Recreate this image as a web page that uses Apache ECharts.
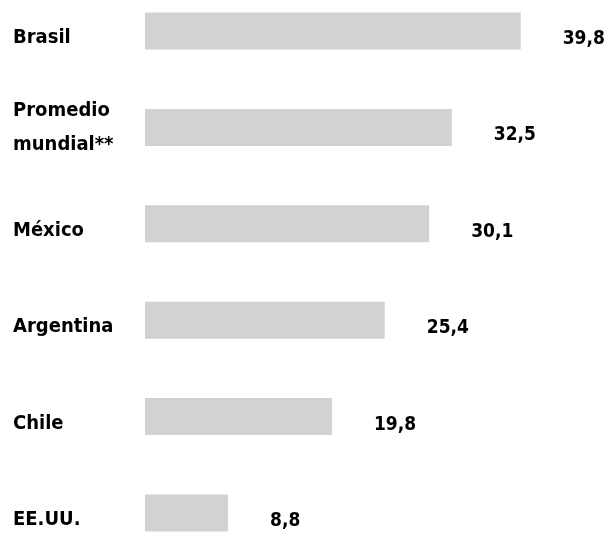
<!DOCTYPE html>
<html>
<head>
<meta charset="utf-8">
<script src="https://cdn.jsdelivr.net/npm/echarts@6/dist/echarts.min.js"></script>
<style>
  html, body { margin: 0; padding: 0; background: #ffffff; }
  #chart { width: 615px; height: 533px; }
</style>
</head>
<body>
<div id="chart"></div>
<script>
// Countries, top to bottom
const categories = ['Brasil', 'Promedio\nmundial**', 'México', 'Argentina', 'Chile', 'EE.UU.'];
// Values shown beside each bar
const values = [39.8, 32.5, 30.1, 25.4, 19.8, 8.8];

const FONT = '"Liberation Sans Narrow", "DejaVu Sans Condensed", "Open Sans", sans-serif';

// Single-line names sit a little below the bar's middle; the two-line name stays centred
const axisData = categories.map(name => name.includes('\n')
  ? { value: name, textStyle: { align: 'left', verticalAlign: 'middle', lineHeight: 34 } }
  : { value: name, textStyle: { align: 'left', verticalAlign: 'top', lineHeight: 14 } });

const chart = echarts.init(document.getElementById('chart'), null, { renderer: 'canvas' });

chart.setOption({
  backgroundColor: '#ffffff',
  animation: false,
  grid: {
    left: 145, width: 472, top: 31, height: 482,
    containLabel: false,
    outerBoundsMode: 'none'
  },
  xAxis: {
    type: 'value',
    min: 0,
    max: 50,
    show: false
  },
  yAxis: {
    type: 'category',
    data: axisData,
    inverse: true,
    boundaryGap: false,
    axisLine: { show: false },
    axisTick: { show: false },
    splitLine: { show: false },
    axisLabel: {
      align: 'left',
      margin: 132,
      color: '#000000',
      fontFamily: FONT,
      fontWeight: 'bold',
      fontSize: 20
    }
  },
  series: [{
    type: 'bar',
    data: values,
    barWidth: 37,
    itemStyle: { color: '#d1d2d4' },
    label: {
      show: true,
      position: 'right',
      distance: 42,
      offset: [0, 8],
      color: '#000000',
      fontFamily: FONT,
      fontWeight: 'bold',
      fontSize: 19,
      formatter: p => p.value.toFixed(1).replace('.', ',')
    }
  }]
});
</script>
</body>
</html>
